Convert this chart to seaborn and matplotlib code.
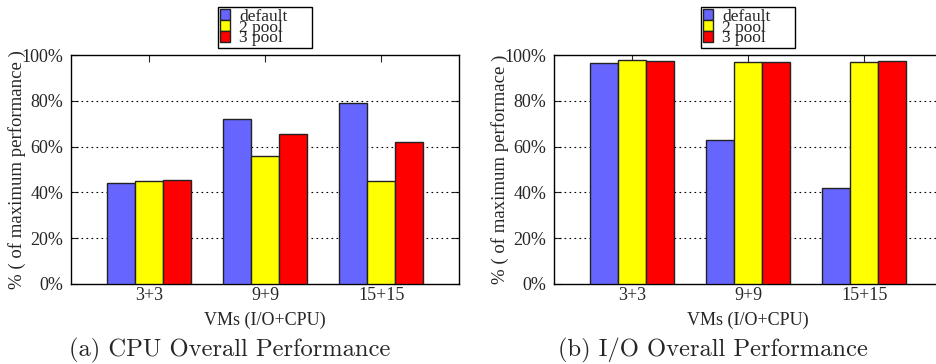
import numpy as np
import pandas as pd
import matplotlib
matplotlib.use('Agg')
import matplotlib.pyplot as plt
import seaborn as sns

groups = ['3+3', '9+9', '15+15']
series = ['default', '2 pool', '3 pool']
colors = ['#6666ff', '#ffff00', '#ff0000']

cpu_default = [44, 72, 79]
cpu_2pool = [45, 56, 45]
cpu_3pool = [45.3, 65.5, 62]

io_default = [96.5, 63, 42]
io_2pool = [98, 97, 97]
io_3pool = [97.5, 97, 97.5]

yticks = [0, 20, 40, 60, 80, 100]
ytick_labels = ['0%', '20%', '40%', '60%', '80%', '100%']

sns.set_style('white')
plt.rcParams['font.family'] = ['Liberation Serif', 'DejaVu Serif']
plt.rcParams['xtick.direction'] = 'in'
plt.rcParams['ytick.direction'] = 'in'


def to_frame(a, b, c):
    rows = []
    for vals, name in zip([a, b, c], series):
        for g, v in zip(groups, vals):
            rows.append({'vms': g, 'pool': name, 'value': v})
    return pd.DataFrame(rows)


def draw(ax, df, ylabel):
    sns.barplot(data=df, x='vms', y='value', hue='pool', order=groups,
                hue_order=series, palette=colors, width=0.72, gap=0,
                edgecolor='#222222', linewidth=1.0, saturation=1, ax=ax,
                zorder=3)
    ax.set_xlim(-0.67, 2.67)
    ax.set_ylim(0, 100)
    ax.set_yticks(yticks)
    ax.set_yticklabels(ytick_labels)
    ax.tick_params(axis='x', labelsize=13, length=5, top=True, bottom=False, pad=2)
    ax.tick_params(axis='y', labelsize=13, length=5, left=True, right=True, pad=5.5)
    # dotted grid sits behind the bars
    for y in yticks[1:-1]:
        ax.axhline(y, color='black', linestyle=(0, (1.5, 3)), linewidth=0.8, zorder=1)
    for s in ax.spines.values():
        s.set_color('black')
        s.set_linewidth(1.0)
    ax.set_xlabel('VMs (I/O+CPU)', fontsize=13, labelpad=6)
    ax.set_ylabel(ylabel, fontsize=13.5)
    ax.yaxis.set_label_coords(-0.115, 0.5)
    ax.legend(loc='lower left', bbox_to_anchor=(0.379, 1.03, 0.242, 0.183),
              mode='expand', fontsize=12.5, frameon=True, fancybox=False,
              edgecolor='black', framealpha=1, labelspacing=-0.3,
              handlelength=0.6, handleheight=0.6, handletextpad=0.5,
              borderpad=0.1, borderaxespad=0)
    ax.get_legend().get_frame().set_linewidth(1.0)


fig = plt.figure(figsize=(9.36, 3.64), dpi=100)
W, H = 936, 364
ax1 = fig.add_axes([71 / W, 1 - 284 / H, 388 / W, 229 / H])
ax2 = fig.add_axes([554 / W, 1 - 284 / H, 388 / W, 229 / H])

draw(ax1, to_frame(cpu_default, cpu_2pool, cpu_3pool),
     '% ( of maximum performance )')
draw(ax2, to_frame(io_default, io_2pool, io_3pool),
     '% ( of maximum performace )')

fig.text(230 / W, 1 - 350 / H, '(a) CPU Overall Performance', ha='center',
         va='center', fontsize=17.7, family='cmr10')
fig.text(713 / W, 1 - 350 / H, '(b) I/O Overall Performance', ha='center',
         va='center', fontsize=17.7, family='cmr10')

fig.savefig('out.png', dpi=100)
